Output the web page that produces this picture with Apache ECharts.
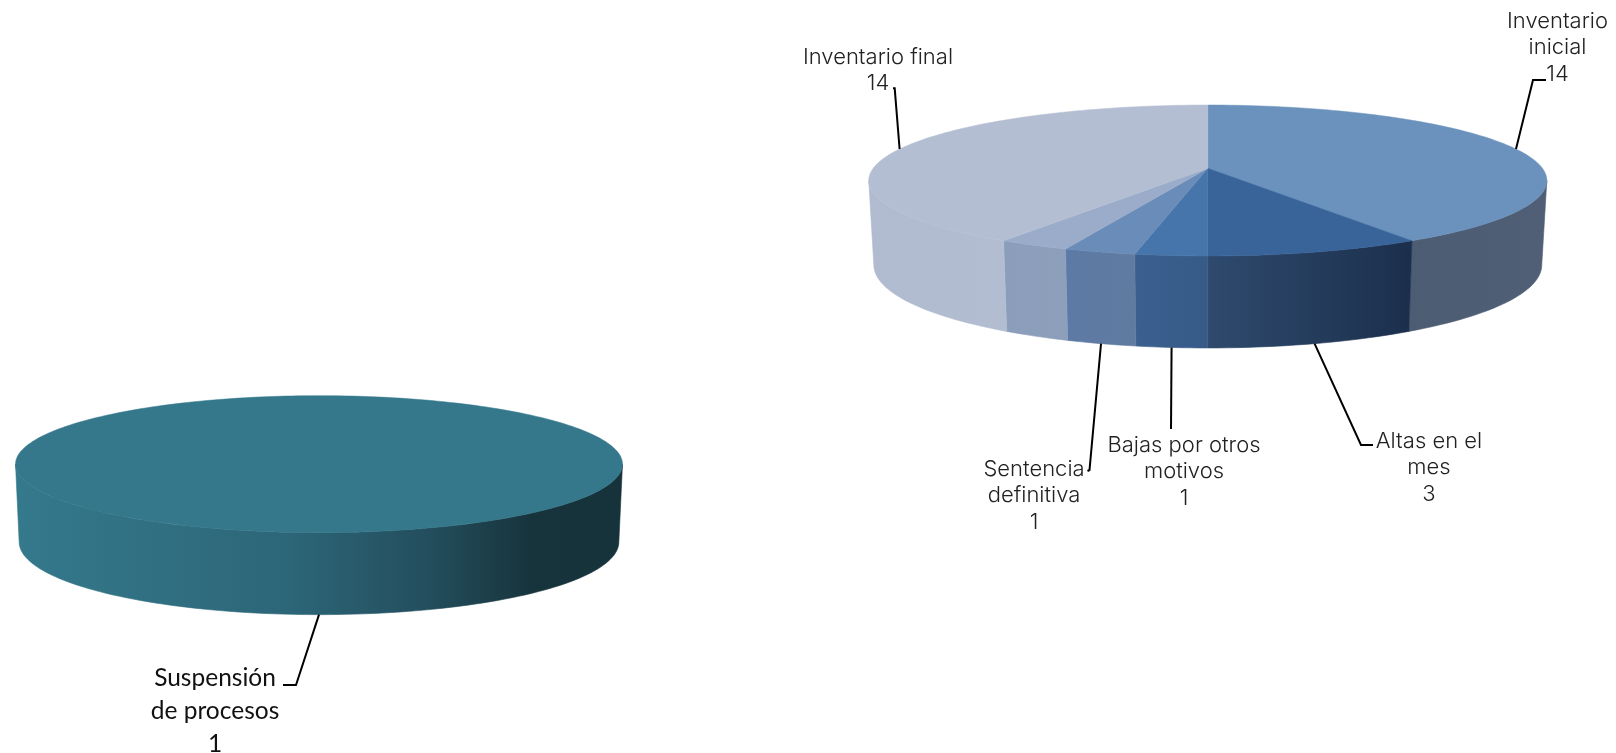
<!DOCTYPE html>
<html><head><meta charset="utf-8">
<style>html,body{margin:0;padding:0;background:#fff}#c{width:1616px;height:753px}</style>
<script src="https://cdn.jsdelivr.net/npm/echarts@6/dist/echarts.min.js"></script>
</head><body><div id="c"></div>
<script>
// Data
const rightCategories = ['Inventario\ninicial', 'Altas en el\nmes', 'Bajas por otros\nmotivos', 'Sentencia\ndefinitiva', '', 'Inventario final'];
const rightValues = [14, 3, 1, 1, 1, 14];
const leftCategories = ['Suspensión\nde procesos'];
const leftValues = [1];

// Styles and layout
const rightTop = ['#6b92bd', '#38649a', '#4575aa', '#6a8cb8', '#9aacca', '#b4bed3'];
const rightWall = [['#4c5c72', '#505f76'], ['#2f4a6e', '#1b2f4c'], ['#3b608f', '#375a87'], ['#5c7aa6', '#617b9f'], ['#8a9dba', '#8d9fba'], ['#b0bbd0', '#b3bdd2']];
const leftTop = ['#35788b'];
const leftWall = [[[0, '#35798c'], [0.45, '#2c6678'], [0.68, '#234e5d'], [0.85, '#17343d'], [1, '#16323a']]];
const rightGeom = {cx: 1207.8, cy: 168.3, A: 334.6, B: 73.5, k: 0.1615, bx: 0.985, d0: 83, d1: 9};
const leftGeom = {cx: 319, cy: 453.1, A: 299.5, B: 66.7, k: 0.1615, bx: 0.988, d0: 77, d1: 5};
const rightLabels = [
  {x: 1557.5, y: 21, lh: 26.5, leader: [[1533, 80], [1546, 80]]},
  {x: 1429, y: 441, lh: 26.5, leader: [[1361, 445], [1373, 445]]},
  {x: 1184, y: 445, lh: 26.5, leader: [[1171, 429]]},
  {x: 1034, y: 469, lh: 26.5, leader: [[1089.5, 470], [1087.5, 471]]},
  null,
  {x: 878, y: 57.5, lh: 26, leader: [[894.7, 88.3], [893, 88.3]]}
];
const leftLabels = [{x: 215, y: 678.5, lh: 33, leader: [[296, 685], [283, 685]]}];
const rightFont = {fontFamily: 'Inter', fontWeight: 300, fontSize: 22, fill: '#222'};
const leftFont = {fontFamily: 'Lato', fontSize: 24.5, fill: '#111'};

function project(g, deg) {
  const t = deg * Math.PI / 180, w = 1 + g.k * Math.cos(t);
  return [g.cx + g.A * Math.sin(t) / w, g.cy - g.B * Math.cos(t) / w];
}
function projectBottom(g, deg) {
  const p = project(g, deg), c = Math.cos(deg * Math.PI / 180);
  return [g.cx + (p[0] - g.cx) * g.bx, p[1] + g.d0 - g.d1 * c];
}
function arc(fn, g, a, b) {
  const pts = [], n = Math.max(2, Math.ceil(Math.abs(b - a) / 1.5));
  for (let i = 0; i <= n; i++) pts.push(fn(g, a + (b - a) * i / n));
  return pts;
}
function pieSeries(values, cats, g, topColors, wallColors, labels, font) {
  const total = values.reduce((s, v) => s + v, 0);
  const edge = 180 / Math.PI * Math.acos(-g.k);
  return {
    type: 'custom', coordinateSystem: 'none', silent: true, animation: false,
    data: values,
    renderItem(params, api) {
      const i = params.dataIndex;
      const before = values.slice(0, i).reduce((s, v) => s + v, 0);
      const a = before / total * 360, b = (before + api.value(0)) / total * 360;
      const kids = [];
      const wa = Math.max(a, edge), wb = Math.min(b, 360 - edge);
      const isFull = b - a >= 359.9;
      const stops = wallColors[i].length === 2 && !Array.isArray(wallColors[i][0])
        ? [{offset: 0, color: wallColors[i][0]}, {offset: 1, color: wallColors[i][1]}]
        : wallColors[i].map(s => ({offset: s[0], color: s[1]}));
      if (wb > wa) {
        const grad = new echarts.graphic.LinearGradient(0, 0, 1, 0, stops);
        kids.push({type: 'polygon', shape: {points: arc(project, g, wa, wb).concat(arc(projectBottom, g, wb, wa))},
          style: {fill: grad, stroke: grad, lineWidth: 0.6}});
      }
      const top = arc(project, g, a, b);
      if (!isFull) top.push([g.cx, g.cy]);
      kids.push({type: 'polygon', shape: {points: top}, style: {fill: topColors[i], stroke: topColors[i], lineWidth: 0.5}});
      const lab = labels[i];
      if (lab) {
        const mid = (a + b) / 2;
        const start = Math.cos(mid * Math.PI / 180) < 0 ? projectBottom(g, mid) : project(g, mid);
        kids.push({type: 'polyline', z2: 5, shape: {points: [start].concat(lab.leader)}, style: {fill: null, stroke: '#000', lineWidth: 2}});
        const lines = cats[i].split('\n').concat(String(api.value(0)));
        lines.forEach((t, n) => kids.push({type: 'text', z2: 6, style: Object.assign({text: t, x: lab.x, y: lab.y + n * lab.lh, align: 'center', verticalAlign: 'middle'}, font)}));
      }
      return {type: 'group', children: kids};
    }
  };
}
const chart = echarts.init(document.getElementById('c'), null, {renderer: 'canvas'});
chart.setOption({
  backgroundColor: '#fff', animation: false,
  series: [
    pieSeries(leftValues, leftCategories, leftGeom, leftTop, leftWall, leftLabels, leftFont),
    pieSeries(rightValues, rightCategories, rightGeom, rightTop, rightWall, rightLabels, rightFont)
  ]
});
</script></body></html>
